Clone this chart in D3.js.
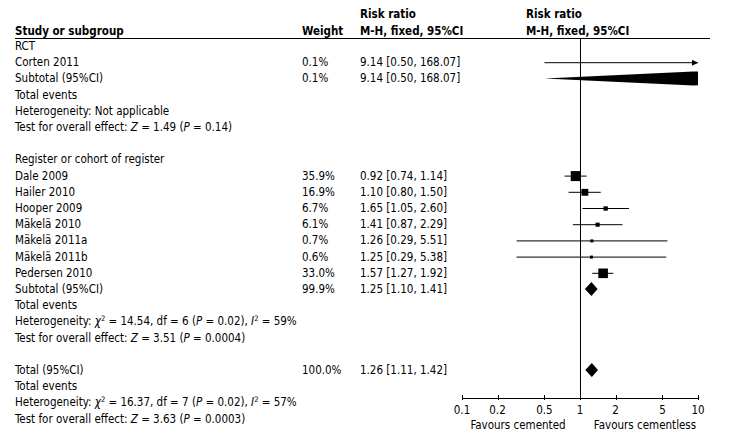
<!DOCTYPE html>
<html><head><meta charset="utf-8">
<script src="https://cdn.jsdelivr.net/npm/d3@7"></script>
<style>
body{margin:0;background:#fff}
svg{display:block}
text{font-family:"DejaVu Sans Condensed","DejaVu Sans",sans-serif;font-size:11.5px;fill:#000}
.b{font-weight:bold}
</style></head><body>
<script>
// ---------- data ----------
const groupNames = ["RCT", "Register or cohort of register"];
const studyNames = ["Corten 2011","Dale 2009","Hailer 2010","Hooper 2009","Mäkelä 2010","Mäkelä 2011a","Mäkelä 2011b","Pedersen 2010"];
const studyGroup = [0,1,1,1,1,1,1,1];
const studyWeight = [0.1,35.9,16.9,6.7,6.1,0.7,0.6,33.0];
const studyRR = [9.14,0.92,1.10,1.65,1.41,1.26,1.25,1.57];
const studyLo = [0.50,0.74,0.80,1.05,0.87,0.29,0.29,1.27];
const studyHi = [168.07,1.14,1.50,2.60,2.29,5.51,5.38,1.92];
const subWeight = [0.1, 99.9];
const subRR = [9.14, 1.25];
const subLo = [0.50, 1.10];
const subHi = [168.07, 1.41];
const totalWeight = 100.0, totalRR = 1.26, totalLo = 1.11, totalHi = 1.42;
// heterogeneity: subgroup 1 not applicable, subgroup 2, total
const hetChi2 = [null, "14.54", "16.37"];
const hetDf = [null, 6, 7];
const hetP = [null, "0.02", "0.02"];
const hetI2 = [null, "59%", "57%"];
const overallZ = ["1.49", "3.51", "3.63"];
const overallP = ["0.14", "0.0004", "0.0003"];
const axisTicks = [0.1, 0.2, 0.5, 1, 2, 5, 10];
const favourLabels = ["Favours cemented", "Favours cementless"];

// ---------- layout ----------
const W = 731, H = 446;
const svg = d3.select("body").append("svg").attr("width", W).attr("height", H);
const x = d3.scaleLog().domain([0.1, 10]).range([462, 698]);
const rowY = i => 46 + 16.2 * i;
const colStudy = 15, colWeight = 302, colRR = 360;
const f2 = d3.format(".2f"), f1 = d3.format(".1f");
const ciText = (r, l, h) => `${f2(r)} [${f2(l)}, ${f2(h)}]`;

// header
svg.append("text").attr("class","b").attr("x",colRR).attr("y",18).text("Risk ratio");
svg.append("text").attr("class","b").attr("x",526).attr("y",18).text("Risk ratio");
svg.append("text").attr("class","b").attr("x",colStudy).attr("y",35).text("Study or subgroup");
svg.append("text").attr("class","b").attr("x",colWeight).attr("y",35).text("Weight");
svg.append("text").attr("class","b").attr("x",colRR).attr("y",35).text("M-H, fixed, 95%CI");
svg.append("text").attr("class","b").attr("x",526).attr("y",35).text("M-H, fixed, 95%CI");
svg.append("line").attr("x1",15).attr("x2",710).attr("y1",38.5).attr("y2",38.5).attr("stroke","#000");

// build rows
const rows = [];
let idx = 0;
groupNames.forEach((g, gi) => {
  rows.push({i: idx++, type: "text", label: g});
  studyNames.forEach((s, si) => {
    if (studyGroup[si] !== gi) return;
    rows.push({i: idx++, type: "study", label: s, w: studyWeight[si], rr: studyRR[si], lo: studyLo[si], hi: studyHi[si]});
  });
  rows.push({i: idx++, type: "diamond", label: "Subtotal (95%CI)", w: subWeight[gi], rr: subRR[gi], lo: subLo[gi], hi: subHi[gi]});
  rows.push({i: idx++, type: "text", label: "Total events"});
  rows.push({i: idx++, type: "het", k: gi});
  rows.push({i: idx++, type: "z", k: gi});
  idx++;
});
rows.push({i: idx++, type: "diamond", label: "Total (95%CI)", w: totalWeight, rr: totalRR, lo: totalLo, hi: totalHi});
rows.push({i: idx++, type: "text", label: "Total events"});
rows.push({i: idx++, type: "het", k: 2});
rows.push({i: idx++, type: "z", k: 2});

// vertical line at 1
svg.append("line").attr("x1",x(1)+0.5).attr("x2",x(1)+0.5).attr("y1",38.5).attr("y2",398).attr("stroke","#000");

svg.append("clipPath").attr("id","plotclip").append("rect")
  .attr("x", x(0.1)).attr("y", 0).attr("width", x(10) - x(0.1)).attr("height", H);
const plot = svg.append("g").attr("clip-path","url(#plotclip)");

function addItalicLine(sel, parts) {
  parts.forEach(p => {
    const t = sel.append("tspan").text(p[0]);
    if (p[1] === "i") t.attr("font-style","italic");
    if (p[1] === "sup") t.attr("font-size","7.5px").attr("dy","-4");
    if (p[1] === "after") t.attr("dy","4");
  });
}

rows.forEach(r => {
  const cy = rowY(r.i), by = cy + 4;
  if (r.type === "het") {
    const t = svg.append("text").attr("x", colStudy).attr("y", by);
    if (hetChi2[r.k] === null) t.text("Heterogeneity: Not applicable");
    else addItalicLine(t, [["Heterogeneity: "], ["χ","i"], ["2","sup"], [` = ${hetChi2[r.k]}, df = ${hetDf[r.k]} (`,"after"], ["P","i"], [` = ${hetP[r.k]}), `], ["I","i"], ["2","sup"], [` = ${hetI2[r.k]}`,"after"]]);
    return;
  }
  if (r.type === "z") {
    const t = svg.append("text").attr("x", colStudy).attr("y", by);
    addItalicLine(t, [["Test for overall effect: "], ["Z","i"], [` = ${overallZ[r.k]} (`], ["P","i"], [` = ${overallP[r.k]})`]]);
    return;
  }
  svg.append("text").attr("x", colStudy).attr("y", by).text(r.label);
  if (r.type === "text") return;
  svg.append("text").attr("x", colWeight).attr("y", by).text(f1(r.w) + "%");
  svg.append("text").attr("x", colRR).attr("y", by).text(ciText(r.rr, r.lo, r.hi));
  if (r.type === "study") {
    const x1 = Math.max(x(r.lo), x(0.1)), x2 = Math.min(x(r.hi), x(10));
    plot.append("line").attr("x1", x1).attr("x2", x2).attr("y1", cy + 0.5).attr("y2", cy + 0.5).attr("stroke","#000");
    if (r.hi > 10) {
      svg.append("path").attr("d", d3.line()([[x(10), cy + 0.5], [x(10) - 6, cy - 2.5], [x(10) - 6, cy + 3.5]])).attr("fill","#000");
    }
    const s = Math.max(3, 1.67 * Math.sqrt(r.w));
    if (r.hi <= 10) plot.append("rect").attr("x", x(r.rr) - s / 2).attr("y", cy + 0.5 - s / 2).attr("width", s).attr("height", s).attr("fill","#000");
  } else {
    const h = 7;
    plot.append("path").attr("d", d3.line()([[x(r.lo), cy], [x(r.rr), cy - h], [x(r.hi), cy], [x(r.rr), cy + h]]) + "Z").attr("fill","#000");
  }
});

// axis
const axisY = 398;
const ax = svg.append("g");
ax.append("line").attr("x1", x(0.1)).attr("x2", x(10)).attr("y1", axisY + 0.5).attr("y2", axisY + 0.5).attr("stroke","#000");
axisTicks.forEach(t => {
  ax.append("line").attr("x1", Math.round(x(t)) + 0.5).attr("x2", Math.round(x(t)) + 0.5).attr("y1", axisY - 3).attr("y2", axisY + 2).attr("stroke","#000");
  ax.append("text").attr("x", x(t)).attr("y", axisY + 16).attr("text-anchor","middle").text(String(t));
});
ax.append("text").attr("x", 518).attr("y", axisY + 31).attr("text-anchor","middle").text(favourLabels[0]);
ax.append("text").attr("x", 645).attr("y", axisY + 31).attr("text-anchor","middle").text(favourLabels[1]);
</script>
</body></html>
